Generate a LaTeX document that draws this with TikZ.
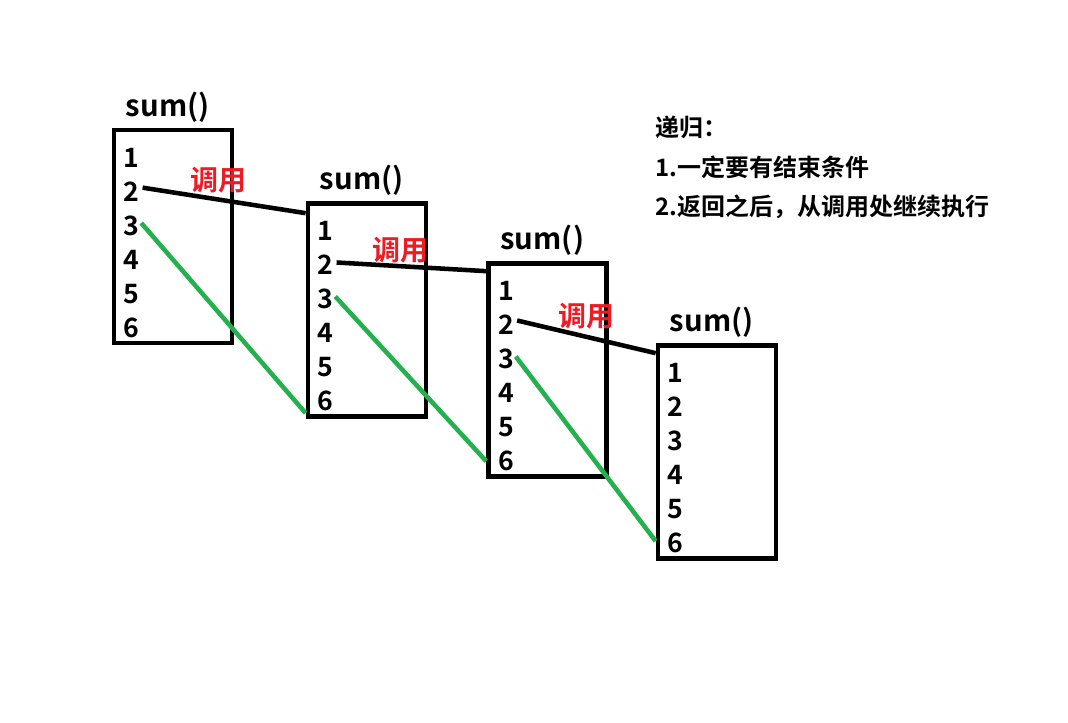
\documentclass[tikz,border=0pt]{standalone}
\usepackage{fontspec}
\setmainfont{Noto Sans CJK SC}[BoldFont={Noto Sans CJK SC Bold}]
\usetikzlibrary{positioning}
\definecolor{callred}{RGB}{237,28,36}
\definecolor{backgreen}{RGB}{34,177,76}

\begin{document}
\begin{tikzpicture}[x=0.75pt,y=-0.75pt]
    \tikzset{
        frame/.style = {rectangle, draw=black, line width=3.5pt, minimum width=88.5pt, minimum height=159.75pt, inner sep=0pt},
        title/.style = {font=\fontsize{22}{26}\selectfont\bfseries, inner sep=0pt},
        num/.style = {font=\fontsize{20}{24}\selectfont\bfseries, inner sep=0pt, anchor=west},
        call/.style = {font=\fontsize{21}{25}\selectfont\bfseries, text=callred, inner sep=0pt},
        note/.style = {font=\fontsize{18}{22}\selectfont\bfseries, inner sep=0pt, anchor=west},
        line/.style = {draw=black, line width=3.4pt},
        back/.style = {draw=backgreen, line width=3.4pt}
    }
    \useasboundingbox (0,0) rectangle (1068,723);

    \node[frame](f_1) at (173,236.5){};
    \node[frame](f_2) at (367,310){};
    \node[frame](f_3) at (547.5,370){};
    \node[frame](f_4) at (717,452){};

    \foreach \f in {1,...,4}{
        \node[title](s_\f)[above right = 4pt and 10.5pt of f_\f.north west]{sum()};
        \foreach \i in {1,...,6}
            \node[num](n_\f_\i) at ([shift={(12,30+34*(\i-1))}]f_\f.north west){\i};
    }

    \coordinate (g_2) at (f_2.west |- n_2_6);
    \coordinate (g_3) at (f_3.west |- n_3_6);
    \coordinate (g_4) at (f_4.west |- n_4_6);

    \path [line] ([shift={(2pt,3pt)}]n_1_2.east) -- ([yshift=-9pt]f_2.north west);
    \path [line] ([shift={(2pt,2pt)}]n_2_2.east) -- ([yshift=-7.5pt]f_3.north west);
    \path [line] ([shift={(2pt,3.5pt)}]n_3_2.east) -- ([yshift=-7.5pt]f_4.north west);

    \path [back] ([shift={(1pt,2pt)}]n_1_3.east) -- ([yshift=-9pt]g_2);
    \path [back] ([shift={(1pt,2pt)}]n_2_3.east) -- (g_3);
    \path [back] ([shift={(1pt,2pt)}]n_3_3.east) -- ([yshift=1.5pt]g_4);

    \node[call](c_1) at (218,180){调用};
    \node[call](c_2) at (400,250){调用};
    \node[call](c_3) at (586,316){调用};

    \node[note](t_1) at (655,127){递归：};
    \node[note](t_2)[below = 30pt of t_1.west, anchor=west]{1.一定要有结束条件};
    \node[note](t_3)[below = 30pt of t_2.west, anchor=west]{2.返回之后，从调用处继续执行};
\end{tikzpicture}
\end{document}
